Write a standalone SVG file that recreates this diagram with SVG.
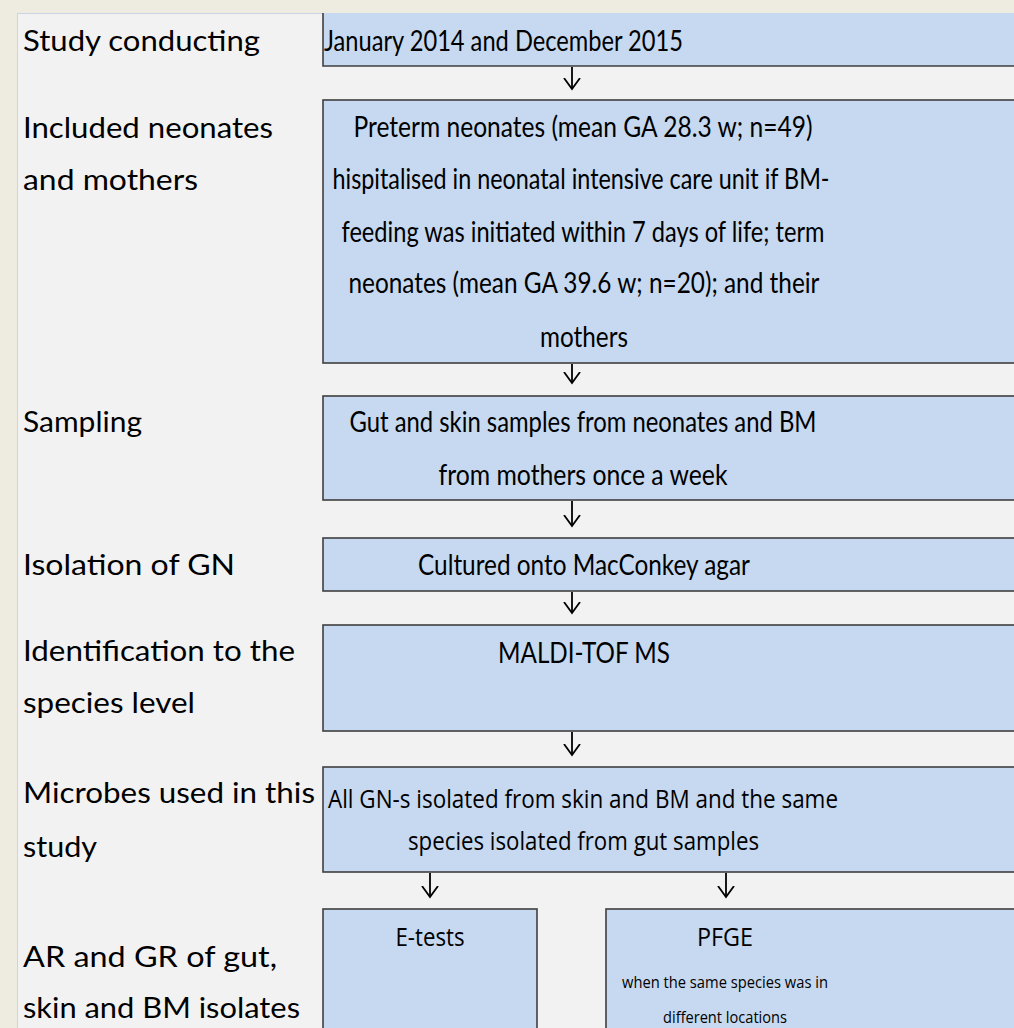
<svg xmlns="http://www.w3.org/2000/svg" width="1014" height="1028" viewBox="0 0 1014 1028">
  <style>
    .bg { fill: #EEECE1; }
    .panel { fill: #F2F2F2; stroke: #C9D5E3; stroke-width: 1; }
    .box { fill: #C6D9F0; stroke: #3F3F3F; stroke-width: 1.6; }
    .lbl { font-family: Lato, "Liberation Sans", sans-serif; font-size: 29px; fill: #000; }
    .txt { font-family: Lato, "Liberation Sans", sans-serif; font-size: 28px; fill: #000; text-anchor: middle; }
    .cal { font-family: "Open Sans", "Liberation Sans", sans-serif; font-size: 26px; fill: #000; text-anchor: middle; }
    .small { font-family: "Open Sans", "Liberation Sans", sans-serif; font-size: 17px; fill: #000; text-anchor: middle; }
    .arrow { stroke: #000; stroke-width: 1.8; fill: none; }
  </style>
  <defs>
    <marker id="head" markerUnits="userSpaceOnUse" markerWidth="20" markerHeight="20" refX="11" refY="8" orient="auto" viewBox="0 0 20 16">
      <path d="M0,0 L11,8 L0,16" fill="none" stroke="#000" stroke-width="1.8"/>
    </marker>
  </defs>

  <rect class="bg" x="0" y="0" width="1014" height="1028"/>
  <rect class="panel" x="17.5" y="13.5" width="1010" height="1030"/>

  <g id="labels">
    <text class="lbl" x="23" y="51" textLength="237" lengthAdjust="spacingAndGlyphs">Study conducting</text>
    <text class="lbl" x="23" y="138" textLength="250" lengthAdjust="spacingAndGlyphs">Included neonates</text>
    <text class="lbl" x="23" y="190" textLength="175" lengthAdjust="spacingAndGlyphs">and mothers</text>
    <text class="lbl" x="23" y="432" textLength="119" lengthAdjust="spacingAndGlyphs">Sampling</text>
    <text class="lbl" x="23" y="575" textLength="212" lengthAdjust="spacingAndGlyphs">Isolation of GN</text>
    <text class="lbl" x="23" y="661" textLength="272" lengthAdjust="spacingAndGlyphs">Identification to the</text>
    <text class="lbl" x="23" y="713" textLength="172" lengthAdjust="spacingAndGlyphs">species level</text>
    <text class="lbl" x="23" y="803" textLength="292" lengthAdjust="spacingAndGlyphs">Microbes used in this</text>
    <text class="lbl" x="23" y="857" textLength="74" lengthAdjust="spacingAndGlyphs">study</text>
    <text class="lbl" x="23" y="967" textLength="254" lengthAdjust="spacingAndGlyphs">AR and GR of gut,</text>
    <text class="lbl" x="23" y="1018" textLength="277" lengthAdjust="spacingAndGlyphs">skin and BM isolates</text>
  </g>

  <g id="n1">
    <rect x="323" y="13" width="700" height="53" fill="#C6D9F0"/>
    <polyline points="323,13 323,66 1020,66" fill="none" stroke="#3F3F3F" stroke-width="1.6"/>
    <text class="lbl" x="324" y="51" textLength="359" lengthAdjust="spacingAndGlyphs">January 2014 and December 2015</text>
  </g>

  <g id="n2">
    <rect class="box" x="323" y="100" width="700" height="263"/>
    <text class="txt" x="583" y="137" textLength="459" lengthAdjust="spacingAndGlyphs">Preterm neonates (mean GA 28.3 w; n=49)</text>
    <text class="txt" x="581" y="189" textLength="497" lengthAdjust="spacingAndGlyphs">hispitalised in neonatal intensive care unit if BM-</text>
    <text class="txt" x="583" y="242" textLength="483" lengthAdjust="spacingAndGlyphs">feeding was initiated within 7 days of life; term</text>
    <text class="txt" x="584" y="293" textLength="471" lengthAdjust="spacingAndGlyphs">neonates (mean GA 39.6 w; n=20); and their</text>
    <text class="txt" x="584" y="347" textLength="88" lengthAdjust="spacingAndGlyphs">mothers</text>
  </g>

  <g id="n3">
    <rect class="box" x="323" y="396" width="700" height="104"/>
    <text class="txt" x="583" y="432" textLength="467" lengthAdjust="spacingAndGlyphs">Gut and skin samples from neonates and BM</text>
    <text class="txt" x="583" y="485" textLength="289" lengthAdjust="spacingAndGlyphs">from mothers once a week</text>
  </g>

  <g id="n4">
    <rect class="box" x="323" y="538" width="700" height="53"/>
    <text class="txt" x="584" y="575" textLength="332" lengthAdjust="spacingAndGlyphs">Cultured onto MacConkey agar</text>
  </g>

  <g id="n5">
    <rect class="box" x="323" y="625" width="700" height="106"/>
    <text class="txt" x="584" y="663" textLength="172" lengthAdjust="spacingAndGlyphs">MALDI-TOF MS</text>
  </g>

  <g id="n6">
    <rect class="box" x="323" y="767" width="700" height="105"/>
    <text class="cal" x="583" y="808" textLength="510" lengthAdjust="spacingAndGlyphs">All GN-s isolated from skin and BM and the same</text>
    <text class="cal" x="583.5" y="850" textLength="351" lengthAdjust="spacingAndGlyphs">species isolated from gut samples</text>
  </g>

  <g id="n7">
    <rect class="box" x="323" y="909" width="214" height="140"/>
    <text class="cal" x="430" y="946" textLength="69" lengthAdjust="spacingAndGlyphs">E-tests</text>
  </g>

  <g id="n8">
    <rect class="box" x="606" y="909" width="420" height="140"/>
    <text class="cal" x="725" y="946" textLength="56" lengthAdjust="spacingAndGlyphs">PFGE</text>
    <text class="small" x="725" y="988" textLength="206" lengthAdjust="spacingAndGlyphs">when the same species was in</text>
    <text class="small" x="725" y="1023" textLength="124" lengthAdjust="spacingAndGlyphs">different locations</text>
  </g>

  <g id="connectors">
    <line class="arrow" x1="572" y1="67" x2="572" y2="89" marker-end="url(#head)"/>
    <line class="arrow" x1="572" y1="364" x2="572" y2="383" marker-end="url(#head)"/>
    <line class="arrow" x1="572" y1="501" x2="572" y2="526" marker-end="url(#head)"/>
    <line class="arrow" x1="572" y1="592" x2="572" y2="613" marker-end="url(#head)"/>
    <line class="arrow" x1="572" y1="732" x2="572" y2="755" marker-end="url(#head)"/>
    <line class="arrow" x1="430" y1="873" x2="430" y2="897" marker-end="url(#head)"/>
    <line class="arrow" x1="726" y1="873" x2="726" y2="897" marker-end="url(#head)"/>
  </g>
</svg>
